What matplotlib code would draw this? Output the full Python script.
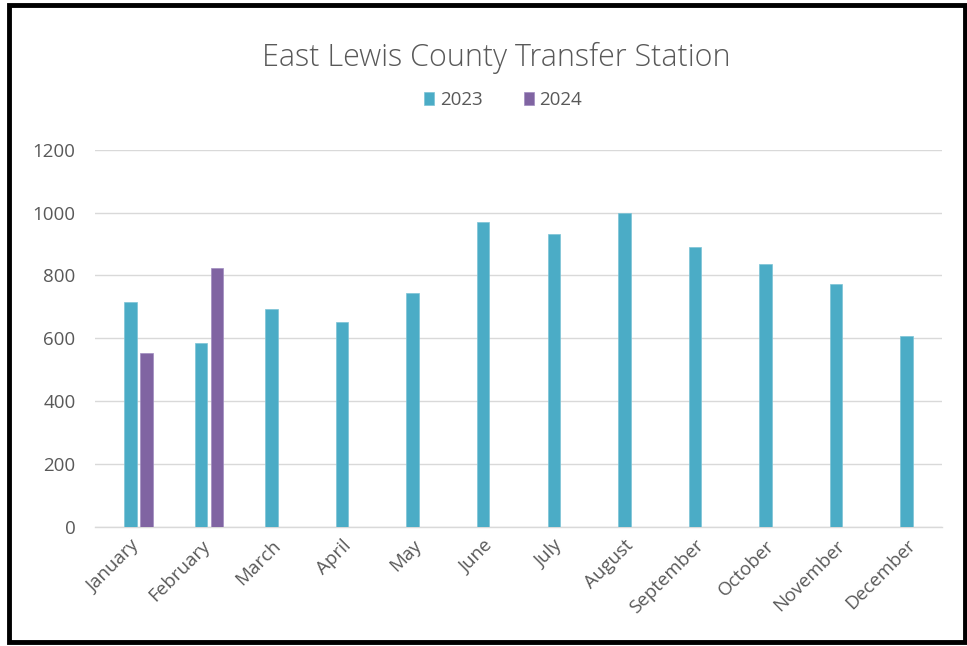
import matplotlib.pyplot as plt
import numpy as np
from matplotlib.patches import Rectangle

months = ['January', 'February', 'March', 'April', 'May', 'June', 'July',
          'August', 'September', 'October', 'November', 'December']
tons_2023 = [714, 584, 692, 651, 744, 970, 932, 999, 890, 836, 773, 606]
tons_2024 = [552, 824]
yticks = [0, 200, 400, 600, 800, 1000, 1200]

teal = '#4BACC6'
purple = '#8064A2'
grey_text = '#595959'

plt.rcParams['font.family'] = ['Open Sans', 'DejaVu Sans']

fig = plt.figure(figsize=(9.67, 6.46), dpi=100)
ax = fig.add_axes([95 / 967, 1 - 526.7 / 646, 847 / 967, 377 / 646])

x = np.arange(len(months))
width = 0.178
ax.bar(x, tons_2023, width, color=teal, edgecolor='#7cc3d6', linewidth=0.5,
       label='2023', zorder=3)
ax.bar(x[:len(tons_2024)] + 0.227, tons_2024, width, color=purple,
       edgecolor='#a08cc0', linewidth=0.5, label='2024', zorder=3)

ax.set_xlim(-0.5, len(months) - 0.5)
ax.set_ylim(0, 1200)
ax.set_yticks(yticks)
ax.set_yticklabels([str(v) for v in yticks], fontsize=13.5, color=grey_text)
ax.set_xticks(x)
ax.set_xticklabels(months, rotation=45, ha='right', rotation_mode='anchor',
                   fontsize=13.5, color=grey_text)
ax.tick_params(axis='both', length=0)
ax.tick_params(axis='y', pad=14)
ax.tick_params(axis='x', pad=7)
ax.grid(axis='y', color='#D9D9D9', linewidth=1.0, zorder=0)
for side in ['top', 'right', 'left']:
    ax.spines[side].set_visible(False)
ax.spines['bottom'].set_color('#D9D9D9')
ax.spines['bottom'].set_linewidth(1.0)

fig.text(496 / 967, 1 - 58 / 646, 'East Lewis County Transfer Station',
         ha='center', va='center', fontsize=22, fontweight=300,
         color=grey_text)

fig.legend(loc='center', bbox_to_anchor=(503 / 967, 1 - 100 / 646), ncol=2,
           frameon=False, fontsize=13.5, labelcolor=grey_text,
           handlelength=0.55, handleheight=0.75, handletextpad=0.3,
           columnspacing=2.2)

# black frame around the whole chart
fig.patches.append(Rectangle((8.5 / 967, 4 / 646), 956 / 967, 637 / 646,
                             transform=fig.transFigure, fill=False,
                             edgecolor='black', linewidth=3.5))

fig.savefig('out.png', dpi=100, facecolor='white')
